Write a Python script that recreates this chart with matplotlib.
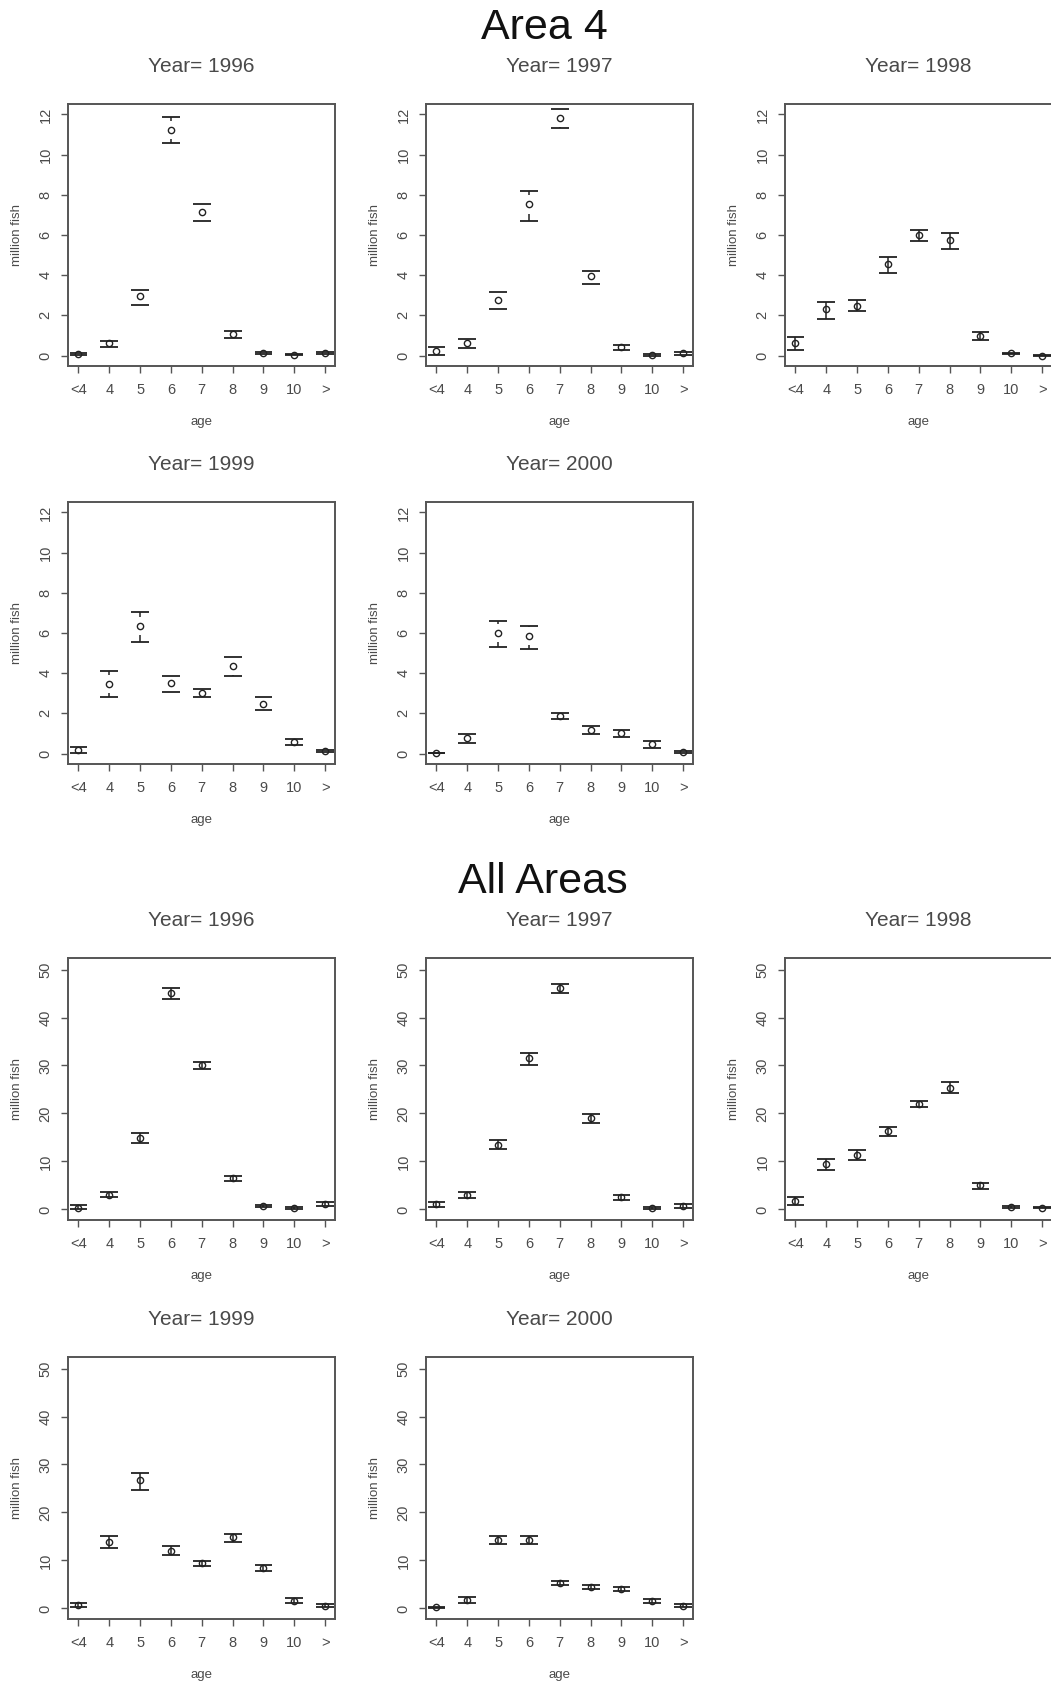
import numpy as np
import matplotlib
matplotlib.use('Agg')
import matplotlib.pyplot as plt

plt.rcParams['font.family'] = ['Liberation Sans', 'DejaVu Sans']

ages = ['<4', '4', '5', '6', '7', '8', '9', '10', '>']
years = [1996, 1997, 1998, 1999, 2000]

# Area 4 : point estimate, lower and upper limits (million fish)
area4_mid = {
    1996: [0.10, 0.60, 2.95, 11.22, 7.14, 1.06, 0.12, 0.05, 0.12],
    1997: [0.23, 0.60, 2.78, 7.52, 11.84, 3.94, 0.43, 0.05, 0.12],
    1998: [0.60, 2.30, 2.47, 4.55, 5.98, 5.77, 0.97, 0.12, 0.00],
    1999: [0.20, 3.46, 6.37, 3.50, 3.00, 4.37, 2.47, 0.58, 0.12],
    2000: [0.03, 0.77, 6.00, 5.85, 1.86, 1.15, 1.00, 0.46, 0.10],
}
area4_lo = {
    1996: [0.05, 0.45, 2.50, 10.58, 6.72, 0.89, 0.07, 0.03, 0.07],
    1997: [0.02, 0.40, 2.33, 6.72, 11.32, 3.54, 0.26, 0.00, 0.05],
    1998: [0.27, 1.83, 2.22, 4.10, 5.68, 5.30, 0.77, 0.10, -0.02],
    1999: [0.05, 2.80, 5.55, 3.08, 2.80, 3.87, 2.16, 0.41, 0.07],
    2000: [0.01, 0.54, 5.32, 5.19, 1.73, 0.96, 0.82, 0.30, 0.05],
}
area4_hi = {
    1996: [0.15, 0.70, 3.28, 11.89, 7.52, 1.21, 0.18, 0.07, 0.18],
    1997: [0.43, 0.80, 3.15, 8.18, 12.25, 4.20, 0.55, 0.10, 0.20],
    1998: [0.90, 2.67, 2.77, 4.90, 6.23, 6.10, 1.18, 0.15, 0.03],
    1999: [0.33, 4.12, 7.03, 3.87, 3.20, 4.81, 2.79, 0.74, 0.20],
    2000: [0.05, 0.99, 6.62, 6.37, 2.03, 1.38, 1.19, 0.61, 0.15],
}

# All areas
all_mid = {
    1996: [0.40, 3.00, 14.9, 45.2, 30.1, 6.6, 0.8, 0.3, 1.2],
    1997: [1.05, 3.05, 13.5, 31.5, 46.1, 19.0, 2.5, 0.3, 0.7],
    1998: [1.80, 9.50, 11.3, 16.3, 22.0, 25.4, 5.0, 0.6, 0.4],
    1999: [0.70, 13.9, 26.8, 12.05, 9.4, 14.8, 8.5, 1.65, 0.5],
    2000: [0.20, 1.70, 14.2, 14.2, 5.3, 4.4, 4.1, 1.65, 0.6],
}
all_lo = {
    1996: [0.10, 2.50, 13.9, 43.9, 29.3, 5.95, 0.5, 0.1, 0.8],
    1997: [0.55, 2.40, 12.5, 30.2, 45.2, 18.1, 1.9, 0.1, 0.3],
    1998: [0.90, 8.30, 10.4, 15.3, 21.3, 24.2, 4.3, 0.4, 0.2],
    1999: [0.20, 12.6, 24.7, 11.2, 8.9, 13.9, 7.9, 1.2, 0.2],
    2000: [0.00, 1.20, 13.4, 13.4, 4.9, 4.0, 3.6, 1.2, 0.2],
}
all_hi = {
    1996: [0.90, 3.67, 15.9, 46.2, 30.8, 7.05, 1.0, 0.5, 1.6],
    1997: [1.60, 3.67, 14.4, 32.6, 47.0, 19.9, 3.0, 0.6, 1.1],
    1998: [2.63, 10.5, 12.3, 17.2, 22.7, 26.5, 5.6, 0.8, 0.6],
    1999: [1.10, 15.2, 28.3, 13.0, 9.8, 15.6, 9.0, 2.2, 0.9],
    2000: [0.40, 2.30, 15.1, 15.1, 5.7, 4.8, 4.5, 2.05, 0.9],
}

W, H = 1051, 1682
fig = plt.figure(figsize=(W / 100, H / 100), dpi=100)

col_left = [68, 426, 785]
box_w = 267
box_h = 262
row_top = [104, 502, 958, 1357]

line_col = '#222222'
text_col = '#4a4a4a'


def draw_panel(ax, mid, lo, hi, yticks, ylim, gap):
    x = np.arange(1, len(ages) + 1)
    mid = np.array(mid)
    lo = np.array(lo)
    hi = np.array(hi)
    cw = 0.29
    ax.hlines(hi, x - cw, x + cw, color=line_col, lw=1.3)
    ax.hlines(lo, x - cw, x + cw, color=line_col, lw=1.3)
    if gap > 0:
        # segments stop short of the point, as in R's plotCI
        up = hi - mid > gap
        dn = mid - lo > gap
        ax.vlines(x[up], mid[up] + gap, hi[up], color=line_col, lw=1.1)
        ax.vlines(x[dn], lo[dn], mid[dn] - gap, color=line_col, lw=1.1)
    else:
        ax.vlines(x, lo, hi, color=line_col, lw=1.1)
    ax.plot(x, mid, 'o', mfc='none', mec=line_col, mew=1.0, ms=4.5, zorder=3)
    ax.set_xlim(0.66, 9.32)
    ax.set_ylim(*ylim)
    ax.set_xticks(x)
    ax.set_xticklabels(ages)
    ax.set_yticks(yticks)
    ax.tick_params(direction='out', length=5, width=1, colors='#555555',
                   labelsize=10.5, labelcolor=text_col)
    ax.tick_params(axis='x', pad=7)
    ax.tick_params(axis='y', pad=6, labelrotation=90)
    for lab in ax.get_yticklabels():
        lab.set_va('center')
    for sp in ax.spines.values():
        sp.set_color('#555555')
        sp.set_linewidth(1.4)
    ax.set_xlabel('age', fontsize=9.5, color=text_col, labelpad=14)
    ax.set_ylabel('million fish', fontsize=9.5, color=text_col, labelpad=11)


panels = [(0, 0), (0, 1), (0, 2), (1, 0), (1, 1)]

for block, (mids, los, his, yticks, ylim, gaps) in enumerate([
        (area4_mid, area4_lo, area4_hi, np.arange(0, 13, 2), (-0.52, 12.52),
         {1996: 0.45, 1997: 0.45, 1998: 0.0, 1999: 0.45, 2000: 0.45}),
        (all_mid, all_lo, all_hi, np.arange(0, 51, 10), (-2.2, 52.4),
         {y: 0.0 for y in years})]):
    for yr, (r, c) in zip(years, panels):
        top = row_top[block * 2 + r]
        ax = fig.add_axes([col_left[c] / W, 1 - (top + box_h) / H, box_w / W, box_h / H])
        draw_panel(ax, mids[yr], los[yr], his[yr], yticks, ylim, gaps[yr])
        ax.set_title('Year= %d' % yr, fontsize=15, color=text_col, pad=23)

fig.text(544 / W, 1 - 28 / H, 'Area 4', fontsize=31, ha='center', va='center', color='#111111')
fig.text(543 / W, 1 - 882 / H, 'All Areas', fontsize=31, ha='center', va='center', color='#111111')

fig.savefig('out.png', dpi=100, facecolor='white')
